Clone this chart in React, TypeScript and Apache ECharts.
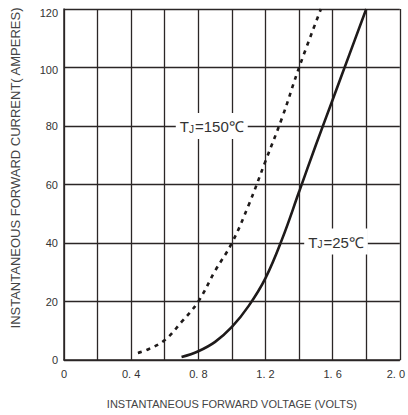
import React, { useEffect, useRef } from "react";
import * as echarts from "echarts";

const voltage150: number[] = [0.44, 0.5, 0.6, 0.7, 0.8, 0.9, 1.0, 1.1, 1.2, 1.3, 1.4, 1.53];
const current150: number[] = [2.4, 3.6, 6.8, 13, 20, 30.5, 40, 53, 68, 83, 100, 120];
const voltage25: number[] = [0.7, 0.8, 0.9, 1.0, 1.1, 1.2, 1.3, 1.4, 1.5, 1.6, 1.7, 1.8];
const current25: number[] = [1, 3, 6.2, 11.3, 18.5, 28, 41.5, 57.5, 73.5, 89, 104.5, 120];
const label150 = { text: "150℃", at: [0.88, 80] };
const label25 = { text: "25℃", at: [1.62, 40.5] };
const xTitle = "INSTANTANEOUS FORWARD VOLTAGE (VOLTS)";
const yTitle = "INSTANTANEOUS FORWARD CURRENT( AMPERES)";

const FONT = "Liberation Sans, Arial, sans-serif";
const GRID = "#2b2626";

function pairs(x: number[], y: number[]) {
  return x.map((v, i) => [v, y[i]]);
}

function tjLabel(coord: number[], num: string) {
  return {
    coord,
    symbol: "rect",
    symbolSize: 0,
    label: {
      show: true,
      position: "inside",
      formatter: `{t|T}{s|J}{t|=${num}}`,
      backgroundColor: "#ffffff",
      padding: [5, 4, 5, 4],
      rich: {
        t: { fontSize: 15, color: "#333", fontFamily: FONT, verticalAlign: "bottom", lineHeight: 16 },
        s: { fontSize: 10, color: "#333", fontFamily: FONT, verticalAlign: "bottom", lineHeight: 14, padding: [0, 1, 0, 0] },
      },
    },
  };
}

export default function App() {
  const ref = useRef<HTMLDivElement>(null);
  useEffect(() => {
    if (!ref.current) return;
    const chart = echarts.init(ref.current, undefined, { renderer: "svg" });
    chart.setOption({
      animation: false,
      backgroundColor: "#ffffff",
      grid: { left: 64, right: 6, top: 9, bottom: 55, containLabel: false },
      xAxis: {
        type: "value",
        min: 0,
        max: 2.0,
        interval: 0.2,
        name: xTitle,
        nameLocation: "middle",
        nameGap: 38,
        nameTextStyle: { fontSize: 11, color: "#444", fontFamily: FONT },
        axisLine: { show: true, lineStyle: { color: GRID, width: 1.5 } },
        axisTick: { show: false },
        splitLine: { show: true, lineStyle: { color: GRID, width: 1.3 } },
        axisLabel: {
          color: "#333",
          fontSize: 11,
          fontFamily: FONT,
          margin: 8,
          showMaxLabel: true,
          formatter: (v: number) => {
            const k = Math.round(v * 10);
            if (k % 4 !== 0) return "";
            if (k === 0) return "0";
            const s = v.toFixed(1).replace(".", ". ");
            return k === 20 ? `{r|${s}}` : s;
          },
          rich: { r: { fontSize: 11, fontFamily: FONT, color: "#333", padding: [0, 8, 0, 0] } },
        },
      },
      yAxis: {
        type: "value",
        min: 0,
        max: 120,
        interval: 20,
        axisLine: { show: true, lineStyle: { color: GRID, width: 1.5 } },
        axisTick: { show: false },
        splitLine: { show: true, lineStyle: { color: GRID, width: 1.3 } },
        axisLabel: {
          color: "#333",
          fontSize: 11,
          fontFamily: FONT,
          margin: 6,
          formatter: (v: number) => (v === 120 ? `{a|${v}}` : v === 100 ? `{b|${v}}` : `${v}`),
          rich: {
            a: { fontSize: 11, fontFamily: FONT, color: "#333", padding: [8, 0, 0, 0] },
            b: { fontSize: 11, fontFamily: FONT, color: "#333", padding: [5, 0, 0, 0] },
          },
        },
      },
      graphic: [
        {
          type: "text",
          x: 15,
          y: 168,
          rotation: Math.PI / 2,
          style: {
            text: yTitle,
            fontSize: 13,
            fill: "#444",
            fontFamily: FONT,
            align: "center",
            verticalAlign: "middle",
          },
        },
      ],
      series: [
        {
          type: "line",
          data: pairs(voltage150, current150),
          smooth: 0.4,
          showSymbol: false,
          lineStyle: { color: "#1e1a1a", width: 2.6, type: [4, 5] },
          z: 3,
          markPoint: {
            symbolSize: 0,
            data: [tjLabel(label150.at, label150.text)],
          },
        },
        {
          type: "line",
          data: pairs(voltage25, current25),
          smooth: 0.4,
          showSymbol: false,
          lineStyle: { color: "#1e1a1a", width: 2.6 },
          z: 3,
          markPoint: {
            symbolSize: 0,
            data: [tjLabel(label25.at, label25.text)],
          },
        },
      ],
    });
    return () => chart.dispose();
  }, []);
  return <div ref={ref} style={{ position: "absolute", left: 0, top: 0, width: 408, height: 415 }} />;
}
